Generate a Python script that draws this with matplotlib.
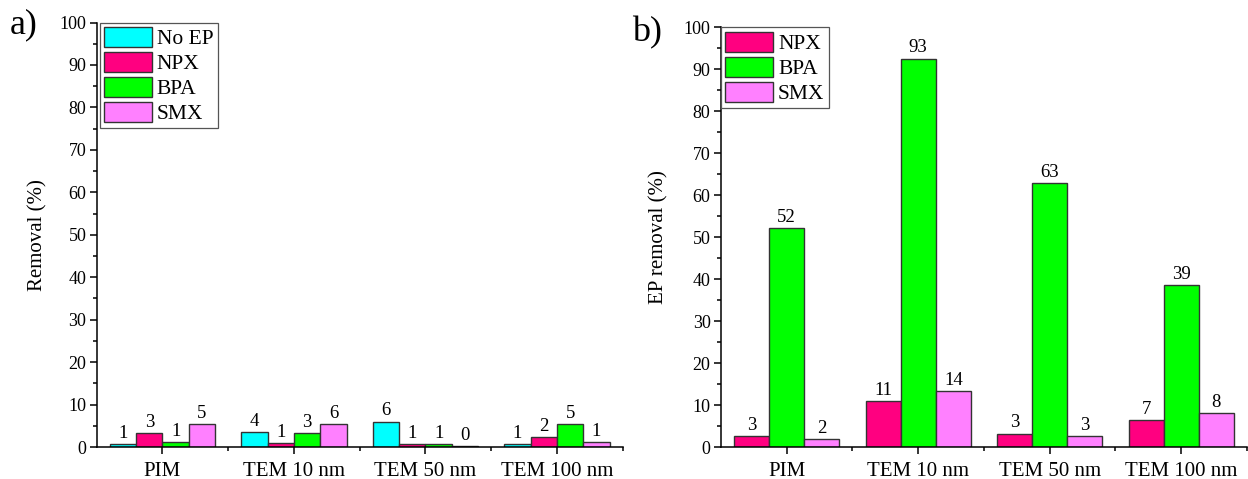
import numpy as np
import matplotlib
matplotlib.use('Agg')
import matplotlib.pyplot as plt
from matplotlib.ticker import MultipleLocator, FixedLocator

plt.rcParams['font.family'] = ['Liberation Serif', 'DejaVu Serif']

# ============================================================================
categories = ['PIM', 'TEM 10 nm', 'TEM 50 nm', 'TEM 100 nm']

# panel a) removal (%)
a_noep = [0.7, 3.6, 6.0, 0.7]
a_npx = [3.2, 0.9, 0.7, 2.4]
a_bpa = [1.1, 3.2, 0.7, 5.5]
a_smx = [5.5, 5.5, 0.2, 1.1]
a_noep_lbl = ['1', '4', '6', '1']
a_npx_lbl = ['3', '1', '1', '2']
a_bpa_lbl = ['1', '3', '1', '5']
a_smx_lbl = ['5', '6', '0', '1']

# panel b) EP removal (%)
b_npx = [2.6, 10.9, 3.2, 6.4]
b_bpa = [52.3, 92.6, 63.0, 38.5]
b_smx = [1.8, 13.4, 2.7, 8.1]
b_npx_lbl = ['3', '11', '3', '7']
b_bpa_lbl = ['52', '93', '63', '39']
b_smx_lbl = ['2', '14', '3', '8']
# ============================================================================

c_noep = '#00FFFF'
c_npx = '#FF0080'
c_bpa = '#00FF00'
c_smx = '#FF80FF'
edge = '#333333'

fig = plt.figure(figsize=(12.48, 4.79), dpi=100)
ax_a = fig.add_axes([0.0775, 0.0668, 0.4215, 0.8862])
ax_b = fig.add_axes([0.5777, 0.0668, 0.4215, 0.8758])

x = np.arange(len(categories))


def style_axis(ax, ylabel, label_x):
    for s in ['top', 'right']:
        ax.spines[s].set_visible(False)
    for s in ['left', 'bottom']:
        ax.spines[s].set_linewidth(1.1)
    ax.set_xlim(-0.5, 3.5)
    ax.set_ylim(0, 100)
    ax.set_xticks(x)
    ax.set_xticklabels(categories, fontsize=15)
    ax.xaxis.set_minor_locator(FixedLocator([0.5, 1.5, 2.5, 3.5]))
    ax.yaxis.set_major_locator(MultipleLocator(10))
    ax.yaxis.set_minor_locator(MultipleLocator(5))
    ax.tick_params(axis='both', which='major', direction='out', length=5, width=1.1)
    ax.tick_params(axis='both', which='minor', direction='out', length=3, width=1.1)
    ax.tick_params(axis='y', labelsize=13, pad=2.5)
    ax.tick_params(axis='x', pad=6)
    ax.set_ylabel(ylabel, fontsize=15)
    ax.yaxis.set_label_coords(label_x, 0.5)


def bars(ax, pos, vals, lbls, color, w, name):
    b = ax.bar(pos, vals, w, color=color, edgecolor=edge, linewidth=1.0, label=name)
    for xi, v, t in zip(pos, vals, lbls):
        ax.text(xi, v + 0.5, t, ha='center', va='bottom', fontsize=13.5)
    return b


# panel a
w = 0.2
bars(ax_a, x - 1.5 * w, a_noep, a_noep_lbl, c_noep, w, 'No EP')
bars(ax_a, x - 0.5 * w, a_npx, a_npx_lbl, c_npx, w, 'NPX')
bars(ax_a, x + 0.5 * w, a_bpa, a_bpa_lbl, c_bpa, w, 'BPA')
bars(ax_a, x + 1.5 * w, a_smx, a_smx_lbl, c_smx, w, 'SMX')
style_axis(ax_a, 'Removal (%)', -0.093)

# panel b
w = 0.8 / 3
bars(ax_b, x - w, b_npx, b_npx_lbl, c_npx, w, 'NPX')
bars(ax_b, x, b_bpa, b_bpa_lbl, c_bpa, w, 'BPA')
bars(ax_b, x + w, b_smx, b_smx_lbl, c_smx, w, 'SMX')
style_axis(ax_b, 'EP removal (%)', -0.099)

for ax, anchor in [(ax_a, (0.006, 1.0)), (ax_b, (0.0, 1.0))]:
    leg = ax.legend(loc='upper left', bbox_to_anchor=anchor, borderaxespad=0,
                    fontsize=15.5, handlelength=2.2, handleheight=1.05,
                    labelspacing=0.12, handletextpad=0.25, borderpad=0.2,
                    fancybox=False, framealpha=1, edgecolor='#555555')
    leg.get_frame().set_linewidth(0.9)

fig.text(10 / 1248, 1 - 25 / 479, 'a)', fontsize=26, ha='left', va='center')
fig.text(632 / 1248, 1 - 33 / 479, 'b)', fontsize=26, ha='left', va='center')

fig.savefig('out.png', dpi=100)
